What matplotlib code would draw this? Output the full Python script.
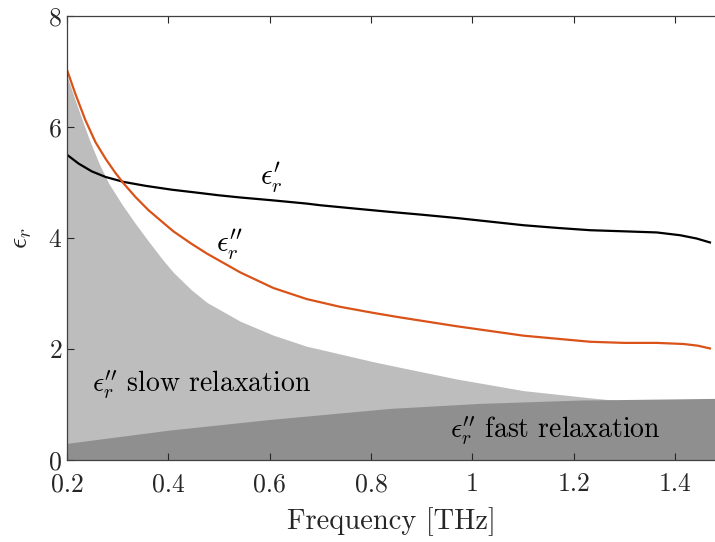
import matplotlib
matplotlib.use('Agg')
import matplotlib.pyplot as plt

plt.rcParams['font.family'] = 'serif'
plt.rcParams['font.serif'] = ['cmr10']
plt.rcParams['mathtext.fontset'] = 'cm'
plt.rcParams['axes.formatter.use_mathtext'] = True

# real part of permittivity
f_re = [0.2, 0.223, 0.249, 0.276, 0.312, 0.355, 0.407, 0.463, 0.499, 0.542,
        0.604, 0.673, 0.7, 0.78, 0.838, 0.9, 0.969, 1.03, 1.101, 1.17, 1.233,
        1.3, 1.364, 1.41, 1.443, 1.469]
eps_re = [5.50, 5.34, 5.20, 5.10, 5.01, 4.94, 4.87, 4.81, 4.77, 4.73,
          4.68, 4.62, 4.59, 4.52, 4.47, 4.42, 4.36, 4.30, 4.23, 4.18, 4.14,
          4.12, 4.10, 4.05, 3.99, 3.92]

# imaginary part of permittivity
f_im = [0.2, 0.216, 0.236, 0.256, 0.276, 0.295, 0.312, 0.335, 0.361, 0.388,
        0.41, 0.445, 0.476, 0.542, 0.607, 0.673, 0.739, 0.805, 0.857, 0.969,
        1.101, 1.233, 1.3, 1.364, 1.417, 1.445, 1.469]
eps_im = [7.03, 6.61, 6.13, 5.73, 5.43, 5.18, 4.98, 4.74, 4.50, 4.29,
          4.12, 3.90, 3.72, 3.38, 3.10, 2.90, 2.76, 2.65, 2.57, 2.41,
          2.24, 2.13, 2.11, 2.11, 2.09, 2.06, 2.01]

# slow relaxation contribution
f_slow = [0.2, 0.216, 0.230, 0.243, 0.263, 0.282, 0.309, 0.335, 0.361, 0.388,
          0.41, 0.445, 0.476, 0.542, 0.607, 0.673, 0.739, 0.805, 0.857, 0.969,
          1.101, 1.233, 1.3, 1.48]
eps_slow = [6.92, 6.49, 6.13, 5.80, 5.35, 4.99, 4.60, 4.26, 3.94, 3.62,
            3.38, 3.07, 2.84, 2.50, 2.25, 2.05, 1.91, 1.77, 1.67, 1.46,
            1.25, 1.12, 1.06, 0.95]

# fast relaxation contribution
f_fast = [0.2, 0.403, 0.6, 0.838, 1.015, 1.213, 1.48]
eps_fast = [0.30, 0.54, 0.73, 0.93, 1.02, 1.08, 1.11]

xticks = [0.2, 0.4, 0.6, 0.8, 1.0, 1.2, 1.4]
xticklabels = ['0.2', '0.4', '0.6', '0.8', '1', '1.2', '1.4']
yticks = [0, 2, 4, 6, 8]

fig = plt.figure(figsize=(7.15, 5.42), dpi=100)
ax = fig.add_axes([0.0937, 0.1513, 0.9063, 0.8192])

ax.fill_between(f_slow, 0, eps_slow, color='#bdbdbd', linewidth=0)
ax.fill_between(f_fast, 0, eps_fast, color='#8f8f8f', linewidth=0)
ax.plot(f_re, eps_re, color='black', lw=1.6, solid_joinstyle='round')
ax.plot(f_im, eps_im, color='#D95319', lw=1.6, solid_joinstyle='round')

ax.text(0.604, 5.08, r"$\epsilon_r^{\prime}$", fontsize=21, ha='center', va='center')
ax.text(0.52, 3.87, r"$\epsilon_r^{\prime\prime}$", fontsize=21, ha='center', va='center')
ax.text(0.25, 1.35, r"$\epsilon_r^{\prime\prime}$ slow relaxation", fontsize=20,
        ha='left', va='center')
ax.text(0.955, 0.52, r"$\epsilon_r^{\prime\prime}$ fast relaxation", fontsize=20,
        ha='left', va='center')

ax.set_xlim(0.2, 1.479)
ax.set_ylim(0, 8)
ax.set_xticks(xticks)
ax.set_xticklabels(xticklabels)
ax.set_yticks(yticks)
ax.tick_params(direction='in', length=5, width=0.8, colors='#262626',
               labelsize=18.5, top=True, labelcolor='#262626')
ax.tick_params(axis='x', pad=9)
for side in ['left', 'bottom', 'top']:
    ax.spines[side].set_color('#404040')
    ax.spines[side].set_linewidth(0.9)
ax.spines['right'].set_visible(False)

ax.set_xlabel('Frequency [THz]', fontsize=20.5, color='#262626', labelpad=8)
ax.set_ylabel(r'$\epsilon_r$', fontsize=20, color='#262626', labelpad=10)

fig.savefig('out.png', dpi=100, facecolor='white')
